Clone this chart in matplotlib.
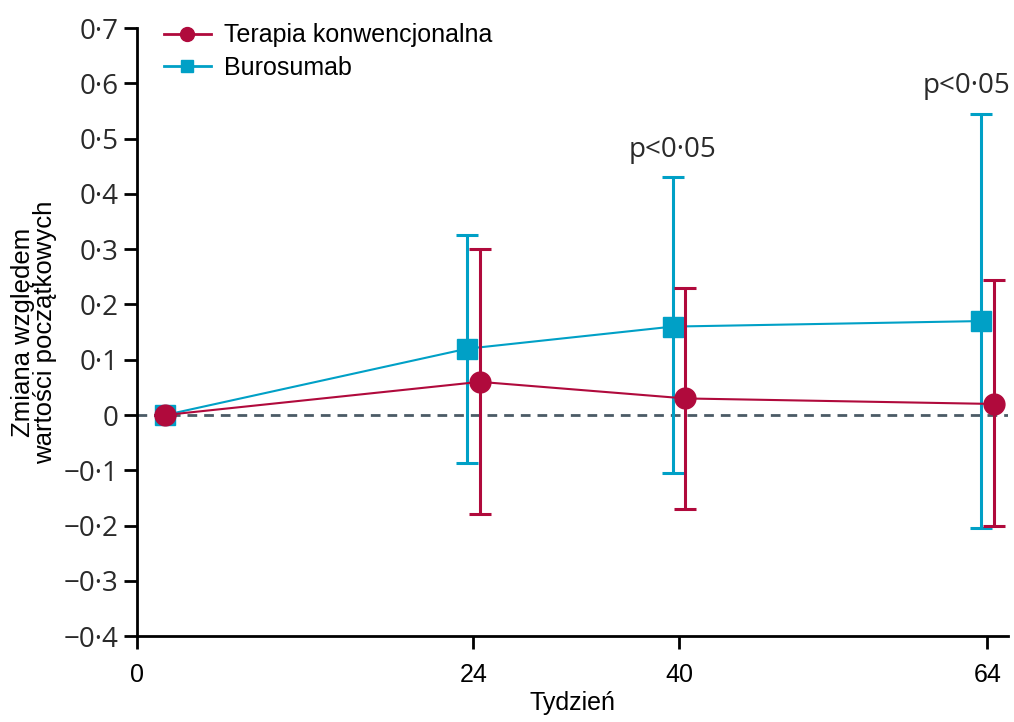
import numpy as np
import matplotlib.pyplot as plt
from matplotlib.lines import Line2D

# Data
weeks = [0, 24, 40, 64]
conv_mean = [0.0, 0.06, 0.03, 0.02]
conv_low = [0.0, -0.18, -0.17, -0.20]
conv_high = [0.0, 0.30, 0.23, 0.245]
buro_mean = [0.0, 0.12, 0.16, 0.17]
buro_low = [0.0, -0.087, -0.105, -0.205]
buro_high = [0.0, 0.325, 0.43, 0.545]
p_weeks = [39.5, 62.4]
p_labels = ["p<0·05", "p<0·05"]
p_heights = [0.455, 0.57]
y_ticks = [-0.4, -0.3, -0.2, -0.1, 0, 0.1, 0.2, 0.3, 0.4, 0.5, 0.6, 0.7]

red = "#B00A3C"
blue = "#00A0C6"
num_font = ["Open Sans", "DejaVu Sans"]
txt_font = ["Liberation Sans", "DejaVu Sans"]

fig = plt.figure(figsize=(10.14, 7.22), dpi=100)
ax = fig.add_axes([0.135, 0.119, 0.859, 0.842])

x = np.array(weeks, dtype=float)
shift = np.where(x > 0, 0.5, 0.0)

ax.axhline(0, color="#4B5B66", lw=2, ls=(0, (3.5, 2.5)), zorder=1)

cm = np.array(conv_mean)
ax.errorbar(x + shift, cm, yerr=[cm - np.array(conv_low), np.array(conv_high) - cm],
            color=red, lw=1.5, elinewidth=2.2, capsize=8, capthick=2.2,
            marker="o", markersize=15, zorder=3)
bm = np.array(buro_mean)
ax.errorbar(x - shift, bm, yerr=[bm - np.array(buro_low), np.array(buro_high) - bm],
            color=blue, lw=1.5, elinewidth=2.2, capsize=8, capthick=2.2,
            marker="s", markersize=14, zorder=2)

for w, lab, h in zip(p_weeks, p_labels, p_heights):
    ax.text(w, h, lab, ha="center", va="bottom",
            fontsize=20, family=num_font, color="#2A2A2A", clip_on=False)

ax.set_ylim(-0.4, 0.7)
ax.set_xlim(-2.2, 65.6)
ax.set_yticks(y_ticks)
ax.set_yticklabels(["0" if v == 0 else ("−" if v < 0 else "") + ("%.1f" % abs(v)).replace(".", "·")
                    for v in y_ticks], family=num_font, fontsize=20, color="#2A2A2A")
ax.set_xticks([-2.2, 24, 40, 64])
ax.set_xticklabels([str(w) for w in weeks], fontsize=18, family=txt_font)

for s in ["top", "right"]:
    ax.spines[s].set_visible(False)
for s in ["left", "bottom"]:
    ax.spines[s].set_linewidth(2)
ax.tick_params(width=2, length=9.5, direction="out")
ax.tick_params(axis="x", pad=10)

ax.set_xlabel("Tydzień", fontsize=18, family=txt_font, labelpad=3)
ax.set_ylabel("Zmiana względem\nwartości początkowych", fontsize=18.5, family=txt_font,
              linespacing=0.9)
ax.yaxis.set_label_coords(-0.092, 0.5)

handles = [Line2D([], [], color=red, lw=2, marker="o", markersize=10),
           Line2D([], [], color=blue, lw=2, marker="s", markersize=9)]
ax.legend(handles, ["Terapia konwencjonalna", "Burosumab"], loc="upper left",
          bbox_to_anchor=(0.005, 1.045), frameon=False,
          prop={"family": txt_font, "size": 18}, handlelength=1.9,
          handletextpad=0.5, labelspacing=0.35)

fig.savefig("out.png", dpi=100)
